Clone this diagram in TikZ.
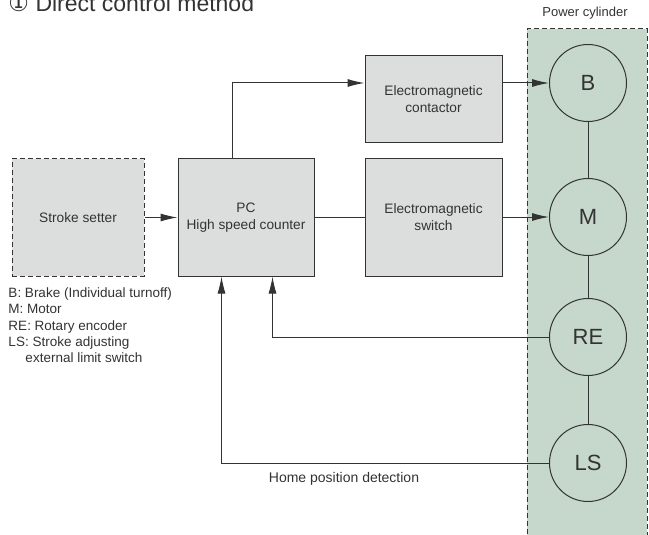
\documentclass[tikz,border=0pt]{standalone}
\usepackage{fontspec}
\setmainfont{Liberation Sans}
\newfontfamily\symfont{DejaVu Sans}
\usetikzlibrary{arrows.meta,calc,positioning}
\definecolor{boxgray}{HTML}{DCDDDD}
\definecolor{cylgreen}{HTML}{C5D8CB}
\definecolor{ink}{HTML}{333333}
\tikzset{pin/.style={-{Latex[length=17pt,width=8pt]}},
  blk/.style={draw=ink, fill=boxgray, line width=1pt, font=\fontsize{13.7}{17}\selectfont, align=center, text=ink, inner sep=0pt},
  part/.style={draw=ink, circle, line width=1pt, minimum size=77pt, inner sep=0pt, font=\fontsize{22}{24}\selectfont, text=ink}}

\begin{document}
\begin{tikzpicture}[x=1pt, y=-1pt, line width=1pt, draw=ink, text=ink, font=\fontsize{13.5}{16}\selectfont]
  \useasboundingbox (0,0) rectangle (649,535);
  % title (cut at top edge)
  \node[anchor=base west, font=\fontsize{23}{26}\selectfont, inner sep=0pt] (title) at (8,12) {{\symfont ①} Direct control method};
  % power cylinder area
  \node[draw=ink, fill=cylgreen, dash pattern=on 5pt off 3pt, minimum width=120pt, minimum height=516pt, inner sep=0pt] (cyl) at (587,287) {};
  \node[font=\fontsize{13}{15}\selectfont] (cyllbl) at (585,13) {Power cylinder};
  % blocks
  \node[blk, dash pattern=on 5pt off 3pt, minimum width=132pt, minimum height=117pt] (ss) at (78,217.5) {Stroke setter};
  \node[blk, minimum width=136pt, minimum height=117pt] (pc) at (246,217.5) {PC\\High speed counter};
  \node[blk, minimum width=137pt, minimum height=87pt] (ctr) at (433.5,99.5) {Electromagnetic\\contactor};
  \node[blk, minimum width=137pt, minimum height=117pt] (sw) at (433.5,217.5) {Electromagnetic\\switch};
  % cylinder parts
  \foreach \n/\t/\y in {b/B/83, m/M/217, re/RE/337, ls/LS/463}{
    \node[part] (\n) at (588,\y) {\t};
  }
  \draw (b) -- (m) -- (re) -- (ls);
  % signal lines
  \draw[pin] (ss) -- (pc);
  \draw (pc) -- (sw);
  \draw[pin] ([xshift=55pt]pc.north west) |- (ctr.west |- b);
  \draw[pin] (ctr.east |- b) -- (b.west);
  \draw[pin] (sw.east |- m) -- (m.west);
  \draw[pin] (re.west) -| ([xshift=95pt]pc.south west);
  \draw[pin] (ls.west) -| ([xshift=44pt]pc.south west);
  \node[below=6pt of ls.west, anchor=north, xshift=-205pt, font=\fontsize{14}{16}\selectfont] (home) {Home position detection};
  % legend
  \node[anchor=north west, align=left, inner sep=0pt, font=\fontsize{13.5}{16.2}\selectfont] (legend) at (8,287.5)
    {B: Brake (Individual turnoff)\\M: Motor\\RE: Rotary encoder\\LS: Stroke adjusting\\\hspace*{17pt}external limit switch};
\end{tikzpicture}
\end{document}
